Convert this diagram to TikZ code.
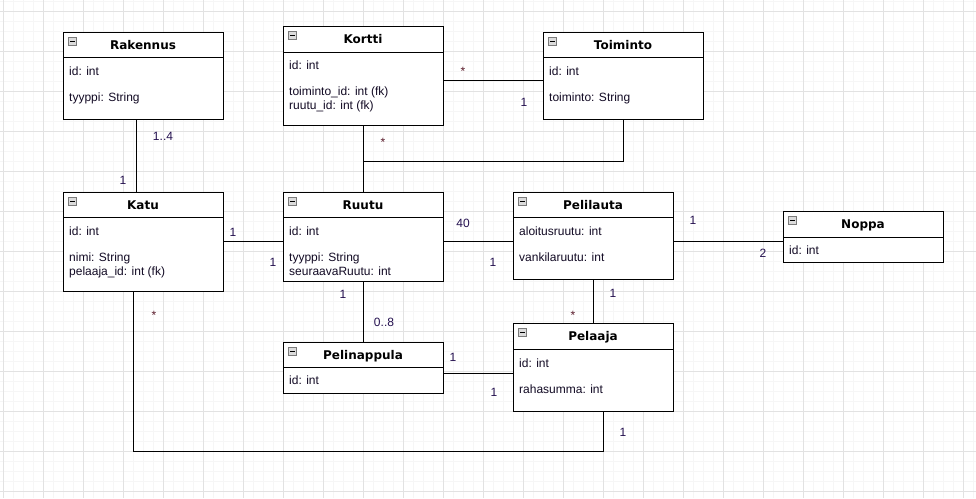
\documentclass[tikz,border=0pt]{standalone}
\usepackage{fontspec}
\setmainfont{Liberation Sans}
\newfontfamily\ttlfont{DejaVu Sans}
\usetikzlibrary{calc}
\definecolor{gridmajor}{HTML}{E2E2E2}
\definecolor{gridminor}{HTML}{F6F6F6}
\definecolor{txt}{HTML}{120A24}
\definecolor{mult}{HTML}{24104F}
\definecolor{star}{HTML}{5A1A2A}
\definecolor{iconfill}{HTML}{DCDCDC}
\definecolor{iconedge}{HTML}{7A7A7A}

\newcommand{\umlclass}[7]{%
  \node[classbox, minimum width=#4pt, minimum height=#5pt, anchor=north west] (#1) at (#2,#3) {};
  \draw[boxline] ([yshift=-#6pt]#1.north west) -- ([yshift=-#6pt]#1.north east);
  \node[iconbox] (#1-icon) at ([xshift=9.5pt,yshift=-9.5pt]#1.north west) {};
  \draw[line width=1pt] ([xshift=-2.5pt]#1-icon.center) -- ([xshift=2.5pt]#1-icon.center);
  \node[titletext] (#1-title) at ([yshift={-0.5*#6pt-4.5pt}]#1.north) {#7};
}

\begin{document}
\begin{tikzpicture}[x=1pt,y=-1pt,
  classbox/.style={draw=black, line width=1pt, fill=white, inner sep=0pt, outer sep=0pt},
  boxline/.style={draw=black, line width=1pt},
  conn/.style={draw=black, line width=1pt},
  titletext/.style={font=\ttlfont\bfseries\fontsize{12}{14}\selectfont, text=black, inner sep=0pt, anchor=base},
  attr/.style={font=\fontsize{12}{14}\selectfont, text=txt, inner sep=0pt, anchor=base west},
  mlabel/.style={font=\fontsize{12}{14}\selectfont, text=mult, inner sep=0pt, anchor=base},
  slabel/.style={font=\fontsize{12}{14}\selectfont, text=star, inner sep=0pt, anchor=base},
  iconbox/.style={draw=iconedge, fill=iconfill, minimum size=8pt, inner sep=0pt, outer sep=0pt, line width=0.8pt},
]
\useasboundingbox (0,0) rectangle (976,498);
\fill[white] (0,0) rectangle (976,498);
% grid
\foreach \x in {3,13,...,973} \draw[gridminor, line width=1pt] (\x,0) -- (\x,498);
\foreach \y in {1,11,...,491} \draw[gridminor, line width=1pt] (0,\y) -- (976,\y);
\foreach \x in {3,43,...,963} \draw[gridmajor, line width=1pt] (\x,0) -- (\x,498);
\foreach \y in {11,51,...,491} \draw[gridmajor, line width=1pt] (0,\y) -- (976,\y);

% classes
\umlclass{rak}{63}{32}{160}{87}{25}{Rakennus}
\node[attr] (rak-a1) at (69,75) {id: int};
\node[attr] (rak-a2) at (69,101) {tyyppi: String};

\umlclass{kortti}{283}{26}{160}{99}{26}{Kortti}
\node[attr] (kortti-a1) at (289,69) {id: int};
\node[attr] (kortti-a2) at (289,95.5) {toiminto\_id: int (fk)};
\node[attr] (kortti-a3) at (289,109.5) {ruutu\_id: int (fk)};

\umlclass{toim}{543}{32}{160}{87}{25}{Toiminto}
\node[attr] (toim-a1) at (549,75) {id: int};
\node[attr] (toim-a2) at (549,101) {toiminto: String};

\umlclass{katu}{63}{192}{160}{99}{25}{Katu}
\node[attr] (katu-a1) at (69,235) {id: int};
\node[attr] (katu-a2) at (69,261) {nimi: String};
\node[attr] (katu-a3) at (69,275.5) {pelaaja\_id: int (fk)};

\umlclass{ruutu}{283}{192}{160}{89}{25}{Ruutu}
\node[attr] (ruutu-a1) at (289,235) {id: int};
\node[attr] (ruutu-a2) at (289,261) {tyyppi: String};
\node[attr] (ruutu-a3) at (289,275.5) {seuraavaRuutu: int};

\umlclass{peli}{513}{192}{160}{87}{25}{Pelilauta}
\node[attr] (peli-a1) at (519,235) {aloitusruutu: int};
\node[attr] (peli-a2) at (519,261) {vankilaruutu: int};

\umlclass{noppa}{783}{211}{160}{51}{26}{Noppa}
\node[attr] (noppa-a1) at (789,254.5) {id: int};

\umlclass{pelin}{283}{342}{160}{51}{25}{Pelinappula}
\node[attr] (pelin-a1) at (289,384.5) {id: int};

\umlclass{pelaaja}{513}{323}{160}{88}{26}{Pelaaja}
\node[attr] (pelaaja-a1) at (519,367) {id: int};
\node[attr] (pelaaja-a2) at (519,393.5) {rahasumma: int};

% connectors
\draw[conn] ([xshift=73pt]rak.south west) -- ([xshift=73pt]katu.north west);
\draw[conn] (kortti.south) -- (ruutu.north);
\coordinate (kr) at (363,161);
\draw[conn] (toim.south) |- (kr);
\draw[conn] ([yshift=-54pt]kortti.north east) -- ([yshift=-48pt]toim.north west);
\draw[conn] ([yshift=-49pt]katu.north east) -- ([yshift=-49pt]ruutu.north west);
\draw[conn] ([yshift=-49pt]ruutu.north east) -- ([yshift=-49pt]peli.north west);
\draw[conn] ([yshift=-49pt]peli.north east) -- ([yshift=-30pt]noppa.north west);
\draw[conn] (ruutu.south) -- (pelin.north);
\draw[conn] (peli.south) -- (pelaaja.north);
\draw[conn] ([yshift=-31pt]pelin.north east) -- ([yshift=-50pt]pelaaja.north west);
\draw[conn] ([xshift=70pt]katu.south west) -- ++(0,160) -| ([xshift=90pt]pelaaja.south west);

% multiplicities
\node[mlabel] (l1) at (163,140.3) {1..4};
\node[mlabel] (l2) at (123,184.3) {1};
\node[slabel] (l3) at (383,146) {*};
\node[slabel] (l4) at (463,75) {*};
\node[mlabel] (l5) at (524,106.3) {1};
\node[mlabel] (l6) at (233,236.3) {1};
\node[mlabel] (l7) at (273,266.3) {1};
\node[mlabel] (l8) at (463,227.3) {40};
\node[mlabel] (l9) at (493,266.3) {1};
\node[mlabel] (l10) at (693,224.3) {1};
\node[mlabel] (l11) at (763,257.3) {2};
\node[mlabel] (l12) at (343,298.3) {1};
\node[mlabel] (l13) at (384,326.3) {0..8};
\node[mlabel] (l14) at (613,297.3) {1};
\node[slabel] (l15) at (573,319) {*};
\node[mlabel] (l16) at (453,361.3) {1};
\node[mlabel] (l17) at (494,396.3) {1};
\node[slabel] (l18) at (154,319) {*};
\node[mlabel] (l19) at (623,436.3) {1};
\end{tikzpicture}
\end{document}
